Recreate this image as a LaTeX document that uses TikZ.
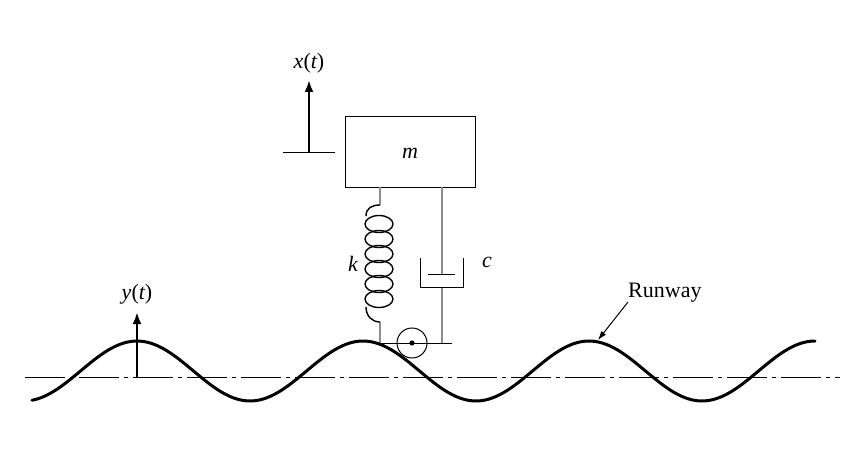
\documentclass[tikz,border=0pt]{standalone}
\usepackage{fontspec}
\setmainfont{Liberation Serif}
\usetikzlibrary{arrows.meta}
\begin{document}
\begin{tikzpicture}[x=1pt,y=-1pt,
  lbl/.style={font=\fontsize{22}{24}\selectfont, inner sep=0pt},
  thin gray/.style={line width=1.2pt, draw=black!45},
  blk/.style={line width=1pt},
  bold/.style={line width=3pt},
  arr/.style={line width=2.6pt,-{Latex[length=12pt,width=9pt]}}]
\useasboundingbox (0,0) rectangle (852,460);
% mass
\node[draw,blk,minimum width=130pt,minimum height=71pt,anchor=north west,inner sep=0pt] (box) at (345,116) {};
\node[lbl] (m) at (410,153) {\itshape m};
% x(t)
\coordinate (xb) at (309,152);
\coordinate (xt) at (309,80);
\coordinate (xl) at (283,152);
\coordinate (xr) at (335,152);
\draw[blk] (xl) -- (xr);
\draw[arr] (xb) -- (xt);
\node[lbl] (xlab) at (309,63) {\itshape x\upshape(\itshape t\upshape)};
% spring
\coordinate (sp0) at (380,187);
\coordinate (sp1) at (380,205);
\coordinate (sp2) at (380,322);
\coordinate (sp3) at (380,343);
\draw[thin gray] (sp0) -- (sp1);
\draw[thin gray] (sp2) -- (sp3);
\draw[line width=1.4pt] (sp1) .. controls (372,205) and (366,208) .. (366,216);
\foreach \yy in {224,239,254,269,284,299}{
  \draw[line width=1.4pt] (379,\yy) ellipse [x radius=14, y radius=8.5];
}
\draw[line width=1.4pt] (366,307) .. controls (366,316) and (372,322) .. (sp2);
\node[lbl] (k) at (353,264) {\itshape k};
% damper
\coordinate (d0) at (442,187);
\coordinate (d1) at (442,274);
\coordinate (d2) at (442,287);
\coordinate (d3) at (442,343);
\draw[thin gray] (d0) -- (d1);
\draw[thin gray] (d2) -- (d3);
\draw[blk] (428,274) -- (455,274);
\draw[blk] (420,258) -- (420,287) -- (463,287) -- (463,258);
\node[lbl] (c) at (487,262) {\itshape c};
% plate and wheel
\coordinate (p0) at (380,343);
\coordinate (p1) at (452,343);
\draw[blk] (p0) -- (p1);
\node[draw,circle,blk,minimum size=30pt,inner sep=0pt] (wheel) at (412,343) {};
\fill (wheel.center) circle (2.6);
% centre line
\coordinate (c0) at (25,377);
\coordinate (c1) at (840,377);
\draw[line width=1pt, dash pattern=on 40pt off 5pt on 4pt off 5pt] (c0) -- (c1);
% runway
\draw[bold, line cap=round, domain=32:815, samples=200, smooth]
  plot (\x, {371-30*cos((\x-137)/226*360)});
% y(t)
\coordinate (yb) at (137,378);
\coordinate (yt) at (137,312);
\draw[arr] (yb) -- (yt);
\node[lbl] (ylab) at (137,294) {\itshape y\upshape(\itshape t\upshape)};
% Runway label
\node[lbl,anchor=west] (rw) at (628,293) {Runway};
\coordinate (rp) at (598,340);
\coordinate (rs) at (628,302);
\draw[line width=1pt,-{Latex[length=9pt,width=6pt]}] (rs) -- (rp);
\end{tikzpicture}
\end{document}
